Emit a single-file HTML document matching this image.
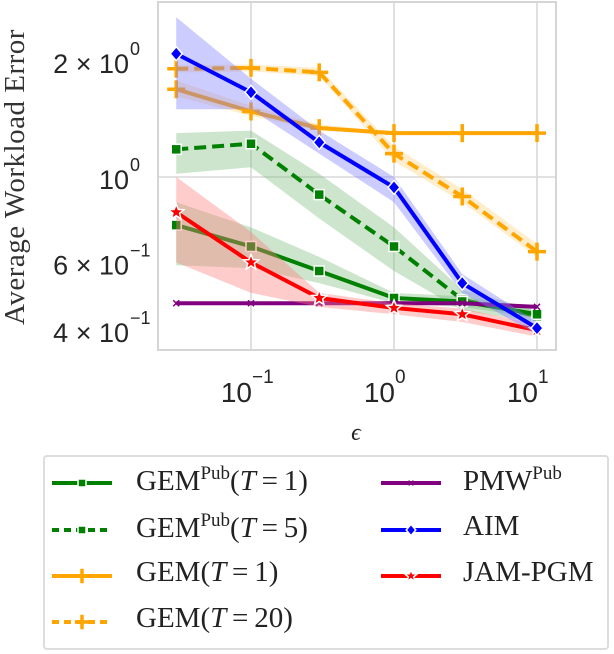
<!DOCTYPE html>
<html><head><meta charset="utf-8">
<style>
html,body{margin:0;padding:0;background:#fff;}
body{width:614px;height:654px;position:relative;overflow:hidden;font-family:"Liberation Sans",sans-serif;}
svg{position:absolute;left:0;top:0;}
.legend{position:absolute;left:43px;top:455px;width:566px;height:195px;border:2px solid #ddd;border-radius:4px;box-sizing:border-box;}
.lt{position:absolute;font-family:"Liberation Serif",serif;font-size:29px;color:#222;white-space:nowrap;}
.lt sup{font-size:19px;vertical-align:11px;}
</style></head>
<body>
<svg id="chart" width="614" height="654"></svg>
<div class="legend"></div>
<script>
const epsilons=[0.03,0.1,0.3,1,3,10];
const gemPub1=[0.75,0.66,0.57,0.485,0.475,0.44];
const gemPub5=[1.18,1.22,0.90,0.66,0.48,0.435];
const gem1=[1.69,1.48,1.34,1.30,1.30,1.30];
const gem20=[1.91,1.92,1.87,1.15,0.89,0.64];
const pmwPub=[0.47,0.47,0.47,0.47,0.47,0.46];
const aim=[2.09,1.66,1.23,0.94,0.53,0.405];
const jamPgm=[0.81,0.60,0.485,0.457,0.44,0.40];
const gemPub1Lo=[0.59,0.58,0.53,0.47,0.46,0.43];
const gemPub1Hi=[0.86,0.74,0.62,0.50,0.49,0.45];
const gemPub5Lo=[1.02,1.06,0.78,0.57,0.45,0.42];
const gemPub5Hi=[1.30,1.32,1.02,0.74,0.51,0.45];
const gem1Lo=[1.62,1.44,1.32,1.29,1.29,1.29];
const gem1Hi=[1.78,1.53,1.37,1.31,1.31,1.31];
const gem20Lo=[1.87,1.88,1.83,1.10,0.86,0.62];
const gem20Hi=[1.95,1.96,1.92,1.20,0.93,0.67];
const pmwLo=[0.465,0.465,0.465,0.465,0.465,0.455];
const pmwHi=[0.475,0.475,0.475,0.475,0.475,0.465];
const aimLo=[1.50,1.50,1.15,0.86,0.50,0.39];
const aimHi=[2.60,1.80,1.32,1.00,0.56,0.42];
const jamLo=[0.60,0.50,0.46,0.44,0.42,0.385];
const jamHi=[1.00,0.72,0.50,0.47,0.455,0.415];
const xTicks=[0.1,1,10];
const xTickExp=["−1","0","1"];
const yTicks=[2,1,0.6,0.4];
const yTickBase=["2 × 10","10","6 × 10","4 × 10"];
const yTickExp=["0","0","−1","−1"];

const NS="http://www.w3.org/2000/svg";
const svg=document.getElementById('chart');
const L=158,R=556,T=2,B=350;
function xs(e){return 394+143*Math.log10(e);}
function ys(v){return 177-385*Math.log10(v);}
function mk(tag,attrs,parent){const el=document.createElementNS(NS,tag);for(const k in attrs)el.setAttribute(k,attrs[k]);(parent||svg).appendChild(el);return el;}

xTicks.forEach((t,i)=>{const g=mk('line',{x1:xs(t),x2:xs(t),y1:T,y2:B,stroke:'#d9d9d9','stroke-width':1.6});

});
const gy=mk('line',{x1:L,x2:R,y1:ys(1),y2:ys(1),stroke:'#d9d9d9','stroke-width':1.6});


const frame=mk('rect',{x:L,y:T,width:R-L,height:B-T,fill:'none',stroke:'#d5d5d5','stroke-width':2});



xTicks.forEach((t,i)=>{
 const tx=mk('text',{x:xs(t)+1,y:402,'text-anchor':'end','font-size':28,fill:'#262626','font-family':'Liberation Sans, sans-serif'});
 tx.textContent='10';
 
 
 const ex=mk('text',{x:xs(t)+1,y:383,'text-anchor':'start','font-size':19,fill:'#262626','font-family':'Liberation Sans, sans-serif'});
 ex.textContent=xTickExp[i];
 
 
});
yTicks.forEach((t,i)=>{
 const tx=mk('text',{x:129,y:ys(t)+12,'text-anchor':'end','font-size':27,fill:'#262626','font-family':'Liberation Sans, sans-serif','xml:space':'preserve'});
 tx.textContent=yTickBase[i];
 
 
 const ex=mk('text',{x:130,y:ys(t)-6,'text-anchor':'start','font-size':18,fill:'#262626','font-family':'Liberation Sans, sans-serif'});
 ex.textContent=yTickExp[i];
 
 
});
const xt=mk('text',{x:356,y:440,'text-anchor':'middle','font-size':24,fill:'#222','font-family':'Liberation Serif, serif','font-style':'italic'});
xt.textContent='ϵ';


const yt=mk('text',{x:0,y:0,'text-anchor':'middle','font-size':29,fill:'#333','font-family':'Liberation Serif, serif',transform:'translate(24,177) rotate(-90)','letter-spacing':'0.5'});
yt.textContent='Average Workload Error';



const series=[
 {name:'gem-pub-t5',vals:gemPub5,lo:gemPub5Lo,hi:gemPub5Hi,color:'#008000',fill:'#7fbf7f',dash:'12,6',m:'square'},
 {name:'gem-t20',vals:gem20,lo:gem20Lo,hi:gem20Hi,color:'#ffa500',fill:'#ffd27f',dash:'12,6',m:'plus'},
 {name:'gem-t1',vals:gem1,lo:gem1Lo,hi:gem1Hi,color:'#ffa500',fill:'#ffd27f',dash:'',m:'plus'},
 {name:'gem-pub-t1',vals:gemPub1,lo:gemPub1Lo,hi:gemPub1Hi,color:'#008000',fill:'#7fbf7f',dash:'',m:'square'},
 {name:'pmw-pub',vals:pmwPub,lo:pmwLo,hi:pmwHi,color:'#800080',fill:'#bf7fbf',dash:'',m:'x'},
 {name:'jam-pgm',vals:jamPgm,lo:jamLo,hi:jamHi,color:'#ff0000',fill:'#ff8080',dash:'',m:'star'},
 {name:'aim',vals:aim,lo:aimLo,hi:aimHi,color:'#0000ff',fill:'#8080ff',dash:'',m:'diamond'}
];
function marker(type,x,y,color,parent,s){
 s=s||1;let el;
 if(type==='square') el=mk('rect',{x:x-5*s,y:y-5*s,width:10*s,height:10*s,fill:color,stroke:'#fff','stroke-width':1.5},parent);
 else if(type==='diamond') el=mk('path',{d:`M${x},${y-7*s}L${x+6*s},${y}L${x},${y+7*s}L${x-6*s},${y}Z`,fill:color,stroke:'#fff','stroke-width':1.5},parent);
 else if(type==='plus') el=mk('path',{d:`M${x-9*s},${y}H${x+9*s}M${x},${y-9*s}V${y+9*s}`,stroke:color,'stroke-width':3.5},parent);
 else if(type==='x') el=mk('path',{d:`M${x-3*s},${y-3*s}L${x+3*s},${y+3*s}M${x+3*s},${y-3*s}L${x-3*s},${y+3*s}`,stroke:color,'stroke-width':1.5},parent);
 else { let p='';for(let k=0;k<10;k++){const r=k%2?3.5*s:8*s;const a=-Math.PI/2+k*Math.PI/5;p+=(k?'L':'M')+(x+r*Math.cos(a)).toFixed(1)+','+(y+r*Math.sin(a)).toFixed(1);}
  el=mk('path',{d:p+'Z',fill:color,stroke:'#fff','stroke-width':1.5},parent);}
 return el;
}
series.forEach(s=>{
 const g=mk('g',{});
 
 
 let band='';
 epsilons.forEach((e,i)=>{band+=(i?'L':'M')+xs(e)+','+ys(s.hi[i]);});
 for(let i=epsilons.length-1;i>=0;i--) band+='L'+xs(epsilons[i])+','+ys(s.lo[i]);
 const b=mk('path',{d:band+'Z',fill:s.fill,'fill-opacity':0.4,stroke:'none'},g);
 
 
 const pts=epsilons.map((e,i)=>xs(e)+','+ys(s.vals[i])).join(' ');
 const ln=mk('polyline',{points:pts,fill:'none',stroke:s.color,'stroke-width':4,'stroke-dasharray':s.dash,'stroke-linejoin':'round'},g);
 
 
 epsilons.forEach((e,i)=>{const m=marker(s.m,xs(e),ys(s.vals[i]),s.color,g);
  
  });
});

const legendItems=[
 {x:52,y:483,color:'#008000',dash:'',m:'square',html:'GEM<sup>Pub</sup>(<i>T</i>=1)',tx:136},
 {x:52,y:530,color:'#008000',dash:'7,5',m:'square',html:'GEM<sup>Pub</sup>(<i>T</i>=5)',tx:136},
 {x:52,y:576,color:'#ffa500',dash:'',m:'plus',html:'GEM(<i>T</i>=1)',tx:136},
 {x:52,y:622,color:'#ffa500',dash:'7,5',m:'plus',html:'GEM(<i>T</i>=20)',tx:136},
 {x:381,y:483,color:'#800080',dash:'',m:'x',html:'PMW<sup>Pub</sup>',tx:463},
 {x:381,y:530,color:'#0000ff',dash:'',m:'diamond',html:'AIM',tx:463},
 {x:381,y:576,color:'#ff0000',dash:'',m:'star',html:'JAM-PGM',tx:463}
];
legendItems.forEach(it=>{
 const g=mk('g',{});
 
 
 mk('line',{x1:it.x,x2:it.x+60,y1:it.y,y2:it.y,stroke:it.color,'stroke-width':4,'stroke-dasharray':it.dash},g);
 marker(it.m,it.x+30,it.y,it.color,g,0.8);
 const d=document.createElement('div');d.className='lt';d.style.left=it.tx+'px';d.style.top=(it.y-20)+'px';d.innerHTML=it.html.replace('=','&thinsp;=&thinsp;');
 
 
 document.body.appendChild(d);
});
svg.parentNode.appendChild(svg);
</script>
</body></html>
